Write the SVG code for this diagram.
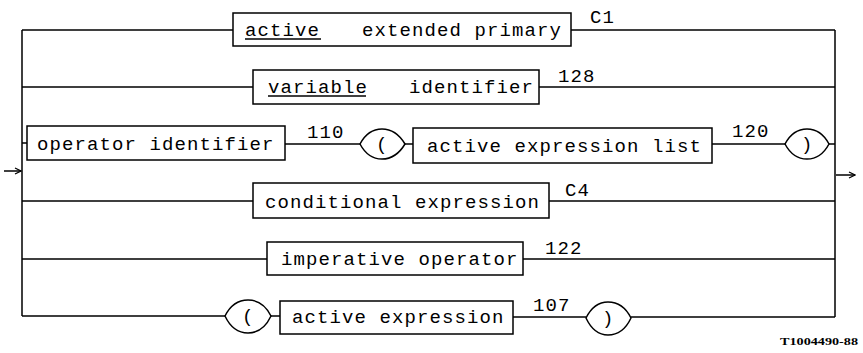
<svg xmlns="http://www.w3.org/2000/svg" width="863" height="353" viewBox="0 0 863 353">
<style>
.bx{fill:#fff;stroke:#000;stroke-width:1.5}
.ov{fill:#fff;stroke:#000;stroke-width:1.5}
.cn{fill:none;stroke:#000;stroke-width:1.5}
.t{font-family:"Liberation Mono","DejaVu Sans Mono",monospace;font-size:19px;letter-spacing:1.1px;fill:#000}
.u{stroke:#000;stroke-width:1.3}
.ft{font-family:"Liberation Serif","DejaVu Serif",serif;font-size:11px;font-weight:bold;fill:#000}
</style>
<defs>
<marker id="ar" markerWidth="8" markerHeight="8" refX="7" refY="4" orient="auto" markerUnits="userSpaceOnUse">
<path d="M1,1 L7,4 L1,7" fill="none" stroke="#000" stroke-width="1.2"/>
</marker>
</defs>
<g id="connectors">
<path class="cn" d="M22,30 V316 M835,30 V317"/>
<path class="cn" d="M22,30 H233 M571,30 H835"/>
<path class="cn" d="M22,87 H253 M539,87 H835"/>
<path class="cn" d="M22,143 H27 M285,144 H360 M405,144 H413 M712,144 H785 M829,144 H835"/>
<path class="cn" d="M22,201 H253 M549,201 H835"/>
<path class="cn" d="M22,259 H267 M523,259 H835"/>
<path class="cn" d="M22,316 H225 M271,316 H280 M513,317 H586 M631,317 H835"/>
<path class="cn" d="M4,171 H21" marker-end="url(#ar)"/>
<path class="cn" d="M836,175 H855" marker-end="url(#ar)"/>
<text class="t" x="590" y="23">C1</text>
<text class="t" x="558" y="82">128</text>
<text class="t" x="307" y="138">110</text>
<text class="t" x="732" y="137">120</text>
<text class="t" x="565" y="196">C4</text>
<text class="t" x="545" y="254">122</text>
<text class="t" x="533" y="311">107</text>
</g>
<g id="n-active-extended-primary">
<rect class="bx" x="233" y="13" width="338" height="33"/>
<text class="t" x="245" y="36">active</text>
<line class="u" x1="245" y1="39" x2="321" y2="39"/>
<text class="t" x="362" y="36">extended primary</text>
</g>
<g id="n-variable-identifier">
<rect class="bx" x="253" y="70" width="286" height="34"/>
<text class="t" x="268" y="93">variable</text>
<line class="u" x1="268" y1="96" x2="366" y2="96"/>
<text class="t" x="409" y="93">identifier</text>
</g>
<g id="n-operator-identifier">
<rect class="bx" x="27" y="126" width="258" height="34"/>
<text class="t" x="37" y="150">operator identifier</text>
</g>
<g id="n-lparen1">
<path class="ov" d="M360,144 Q368,129 382,129 Q396,129 405,144 Q396,159 382,159 Q368,159 360,144 Z"/>
<text class="t" x="376" y="150">(</text>
</g>
<g id="n-active-expression-list">
<rect class="bx" x="413" y="128" width="299" height="35"/>
<text class="t" x="427" y="152">active expression list</text>
</g>
<g id="n-rparen1">
<path class="ov" d="M785,144 Q793,129 807,129 Q821,129 829,144 Q821,159 807,159 Q793,159 785,144 Z"/>
<text class="t" x="801" y="150">)</text>
</g>
<g id="n-conditional-expression">
<rect class="bx" x="253" y="183" width="296" height="35"/>
<text class="t" x="265" y="208">conditional expression</text>
</g>
<g id="n-imperative-operator">
<rect class="bx" x="267" y="242" width="256" height="33"/>
<text class="t" x="281" y="265">imperative operator</text>
</g>
<g id="n-lparen2">
<path class="ov" d="M225,316 Q233,300 248,300 Q263,300 271,316 Q263,333 248,333 Q233,333 225,316 Z"/>
<text class="t" x="242" y="322">(</text>
</g>
<g id="n-active-expression">
<rect class="bx" x="280" y="301" width="233" height="33"/>
<text class="t" x="292" y="323">active expression</text>
</g>
<g id="n-rparen2">
<path class="ov" d="M586,318 Q594,302 608,302 Q623,302 631,318 Q623,335 608,335 Q594,335 586,318 Z"/>
<text class="t" x="602" y="324">)</text>
</g>
<text class="ft" x="780" y="345" textLength="78" lengthAdjust="spacingAndGlyphs">T1004490-88</text>
</svg>
